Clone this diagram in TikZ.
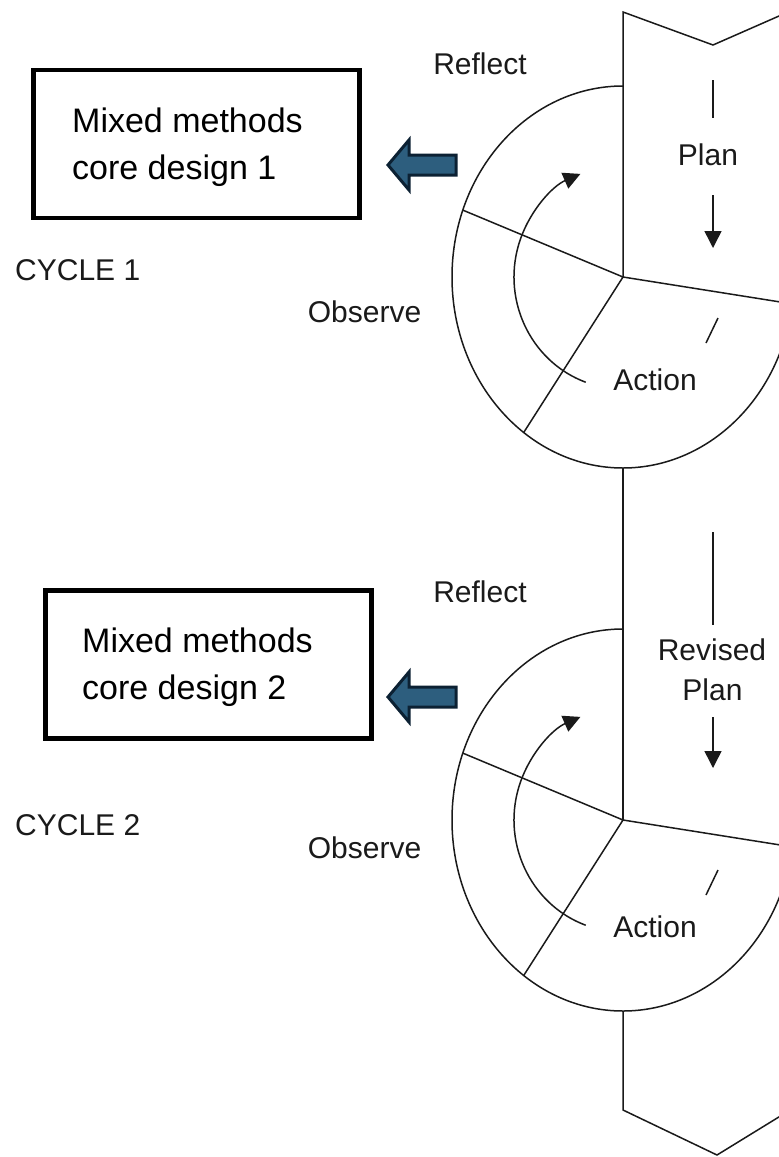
\documentclass[tikz,border=0pt]{standalone}
\usepackage{fontspec}
\setmainfont{Liberation Sans}
\usetikzlibrary{arrows.meta}
\definecolor{blockfill}{HTML}{2D5E7E}
\definecolor{blockedge}{HTML}{0C2133}
\definecolor{ink}{HTML}{1A1A1A}
\begin{document}
\begin{tikzpicture}[x=1pt,y=1pt,
  line/.style={draw=ink, line width=1.5pt},
  lbl/.style={font=\fontsize{30}{41}\selectfont, inner sep=0pt, anchor=base, text=ink},
  frame/.style={draw=black, line width=4.5pt, minimum width=326pt, minimum height=148pt, inner sep=0pt},
  boxtext/.style={font=\fontsize{34}{47}\selectfont, align=left, inner sep=0pt, anchor=north west},
  block/.style={fill=blockfill, draw=blockedge, line width=3pt, line join=miter, miter limit=10},
  headtip/.style={-{Triangle[width=17pt,length=17pt]}}
]
\useasboundingbox (0,0) rectangle (779,-1157);
\clip (0,0) rectangle (779,-1157);

% the two action-research cycles
\foreach \n/\cy/\sl in {1/-277/41, 2/-820/50} {
  \begin{scope}[shift={(623,\cy)}]
    \coordinate (c\n) at (0,0);
    \coordinate (top\n) at (0,191);
    \coordinate (bot\n) at (0,-191);
    \coordinate (ul\n) at (159.5:171pt and 191pt);
    \coordinate (ll\n) at (234.5:171pt and 191pt);
    \coordinate (rr\n) at (170,-27);
    \draw[line] (top\n) arc[start angle=90, end angle=340, x radius=171pt, y radius=191pt];
    \draw[line] (ul\n) -- (c\n) -- (ll\n);
    \draw[line] (c\n) -- (rr\n);
    \draw[line, headtip] (250:109pt and 112pt) arc[start angle=250, end angle=113, x radius=109pt, y radius=112pt];
    \draw[line] (95,-\sl) -- (83,-\sl-25);
  \end{scope}
}

% spine with the chevron ends
\coordinate (chevtop) at (623,-12);
\coordinate (chevbot) at (623,-1110);
\draw[line] (800,-6.8) -- (713,-45) -- (chevtop) -- (c1);
\draw[line] (bot1) -- (c2);
\draw[line] (bot2) -- (chevbot) -- (717,-1155) -- (800,-1104);

% plan arrows
\draw[line] (713,-80) -- (713,-118);
\draw[line, headtip] (713,-195) -- (713,-248);
\draw[line] (713,-532) -- (713,-625);
\draw[line, headtip] (713,-717) -- (713,-768);

% labels
\node[lbl] (plan1) at (708,-165) {Plan};
\node[lbl] (revised) at (712,-660) {Revised};
\node[lbl] (plan2) at (712.5,-700) {Plan};
\node[lbl] (reflect1) at (480,-74) {Reflect};
\node[lbl] (reflect2) at (480,-602) {Reflect};
\node[lbl] (observe1) at (364.5,-322) {Observe};
\node[lbl] (observe2) at (364.5,-858) {Observe};
\node[lbl] (action1) at (655,-390) {Action};
\node[lbl] (action2) at (655,-937) {Action};
\node[lbl, anchor=base west] (cycle1) at (15,-280) {CYCLE 1};
\node[lbl, anchor=base west] (cycle2) at (15,-835) {CYCLE 2};

% design boxes
\node[frame] (box1) at (196.5,-143.75) {};
\node[boxtext] (box1text) at (72,-108) {Mixed methods\\core design 1};
\node[frame] (box2) at (208.5,-664.25) {};
\node[boxtext] (box2text) at (82,-628) {Mixed methods\\core design 2};

% block arrows pointing at the boxes
\foreach \n/\ay in {1/-165, 2/-697} {
  \begin{scope}[shift={(0,\ay)}]
    \draw[block] (388,0) -- (409,25) -- (409,10) -- (456,10) -- (456,-10)
      -- (409,-10) -- (409,-25) -- cycle;
  \end{scope}
}
\end{tikzpicture}
\end{document}
